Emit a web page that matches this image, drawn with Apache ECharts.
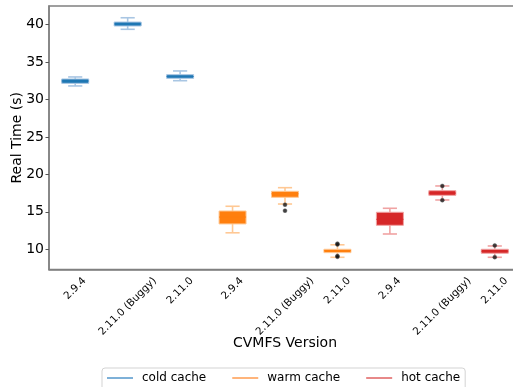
<!DOCTYPE html>
<html>
<head>
<meta charset="utf-8">
<script src="https://cdn.jsdelivr.net/npm/echarts@6/dist/echarts.min.js"></script>
<style>
html,body{margin:0;padding:0;background:#fff;}
#chart{width:513px;height:387px;}
</style>
</head>
<body>
<div id="chart"></div>
<script>
// ---- data ----
const categories = ['2.9.4', '2.11.0 (Buggy)', '2.11.0', '2.9.4', '2.11.0 (Buggy)', '2.11.0', '2.9.4', '2.11.0 (Buggy)', '2.11.0'];
const seriesNames = ['cold cache', 'warm cache', 'hot cache'];
// [min whisker, q1, median, q3, max whisker] per version (2.9.4, 2.11.0 (Buggy), 2.11.0)
const coldStats = [[31.8, 32.15, 32.46, 32.73, 33.0], [39.36, 39.8, 40.07, 40.33, 40.9], [32.5, 32.82, 33.06, 33.3, 33.8]];
const warmStats = [[12.2, 13.38, 14.3, 15.11, 15.74], [16.04, 16.94, 17.4, 17.74, 18.22], [8.93, 9.55, 9.8, 10.0, 10.6]];
const hotStats = [[12.04, 13.2, 14.0, 14.94, 15.47], [16.58, 17.2, 17.5, 17.82, 18.45], [8.93, 9.47, 9.75, 10.0, 10.44]];
// outliers: [category index, value]
const outliers = [[4, 15.95], [4, 15.15], [5, 10.75], [5, 10.65], [5, 9.1], [5, 9.0], [7, 18.45], [7, 16.55], [8, 10.5], [8, 8.95]];
const yTickValues = [10, 15, 20, 25, 30, 35, 40];
const yMin = 7.3, yMax = 42.47;

// ---- styles ----
const FONT = 'DejaVu Sans';
const colors = ['#1f77b4', '#ff7f0e', '#d62728'];
const lightColors = ['#a9c6e3', '#ffc894', '#f0a3a3'];
const legendColors = ['#5d9dcf', '#ffa25a', '#e26b6b'];
const spine = '#808080';

const chart = echarts.init(document.getElementById('chart'), null, {renderer: 'canvas'});

function buildData(stats, offset) {
  return stats.map((s, i) => [i + offset].concat(s));
}

function makeRender(ci) {
  return function (params, api) {
    const x = api.value(0);
    const lo = api.coord([x, api.value(1)]);
    const q1 = api.coord([x, api.value(2)]);
    const md = api.coord([x, api.value(3)]);
    const q3 = api.coord([x, api.value(4)]);
    const hi = api.coord([x, api.value(5)]);
    const band = api.size([1, 0])[0];
    const bw = band * 0.515, cw = band * 0.27;
    const cx = lo[0];
    const lineStyle = {stroke: lightColors[ci], lineWidth: 1.6};
    return {
      type: 'group',
      children: [
        {type: 'line', shape: {x1: cx, y1: q1[1], x2: cx, y2: lo[1]}, style: lineStyle},
        {type: 'line', shape: {x1: cx, y1: q3[1], x2: cx, y2: hi[1]}, style: lineStyle},
        {type: 'line', shape: {x1: cx - cw / 2, y1: lo[1], x2: cx + cw / 2, y2: lo[1]}, style: lineStyle},
        {type: 'line', shape: {x1: cx - cw / 2, y1: hi[1], x2: cx + cw / 2, y2: hi[1]}, style: lineStyle},
        {type: 'rect', shape: {x: cx - bw / 2, y: q3[1], width: bw, height: q1[1] - q3[1]},
          style: {fill: colors[ci], stroke: lightColors[ci], lineWidth: 1}},
        {type: 'line', shape: {x1: cx - bw / 2, y1: md[1], x2: cx + bw / 2, y2: md[1]},
          style: {stroke: colors[ci], lineWidth: 1}}
      ]
    };
  };
}

// per-label rich padding to mimic centred, 45°-rotated matplotlib tick labels
const xFont = 10.3;
const ctx = document.createElement('canvas').getContext('2d');
ctx.font = xFont + 'px "' + FONT + '"';
const rich = {};
categories.forEach((c, i) => {
  const L = ctx.measureText(c).width;
  const d = 5.5 + 0.354 * (L + xFont * 1.15);
  const b = d / 1.414;
  rich['l' + i] = {fontFamily: FONT, fontSize: xFont, color: '#000', padding: [2 * b, 2 * b, 0, 0]};
});

const allSeries = [
  {name: seriesNames[0], stats: coldStats, offset: 0},
  {name: seriesNames[1], stats: warmStats, offset: 3},
  {name: seriesNames[2], stats: hotStats, offset: 6}
].map((s, ci) => ({
  type: 'custom',
  name: s.name,
  renderItem: makeRender(ci),
  itemStyle: {color: colors[ci]},
  encode: {x: 0, y: [1, 2, 3, 4, 5]},
  data: buildData(s.stats, s.offset),
  z: 2
}));

allSeries.push({
  type: 'scatter',
  name: 'outliers',
  data: outliers,
  symbol: 'circle',
  symbolSize: 4,
  itemStyle: {color: '#111', borderColor: '#555', borderWidth: 0.5},
  z: 5
});

chart.setOption({
  animation: false,
  backgroundColor: '#fff',
  grid: {left: 49, right: -8, top: 6, bottom: 117.5, show: true, borderColor: spine, borderWidth: 1.5, outerBoundsMode: 'none', containLabel: false},
  xAxis: {
    type: 'category',
    data: categories,
    boundaryGap: true,
    name: 'CVMFS Version',
    nameLocation: 'middle',
    nameGap: 67,
    nameMoveOverlap: false,
    nameTextStyle: {fontFamily: FONT, fontSize: 14, color: '#000'},
    axisLine: {lineStyle: {color: spine, width: 1.5}},
    axisTick: {alignWithLabel: true, length: 3.5, lineStyle: {color: '#555'}},
    axisLabel: {
      interval: 0, rotate: 45, margin: 0, align: 'center', verticalAlign: 'middle',
      formatter: (v, i) => '{l' + i + '|' + v + '}',
      rich: rich
    },
    splitLine: {show: false}
  },
  yAxis: {
    type: 'value',
    min: yMin,
    max: yMax,
    name: 'Real Time (s)',
    nameLocation: 'middle',
    nameGap: 25,
    nameMoveOverlap: false,
    nameTextStyle: {fontFamily: FONT, fontSize: 14, color: '#000'},
    axisLine: {show: true, lineStyle: {color: spine, width: 1.5}},
    axisTick: {show: true, length: 3.5, customValues: yTickValues, lineStyle: {color: '#555'}},
    axisLabel: {customValues: yTickValues, fontFamily: FONT, fontSize: 14, color: '#000', margin: 5},
    splitLine: {show: false}
  },
  legend: {
    left: 102,
    top: 368,
    orient: 'horizontal',
    icon: 'rect',
    itemWidth: 26,
    itemHeight: 1.6,
    itemGap: 26,
    padding: [4, 5, 10, 5],
    borderColor: '#d3d3d3',
    borderWidth: 1,
    borderRadius: 3,
    textStyle: {fontFamily: FONT, fontSize: 12, color: '#000', padding: [0, 0, 0, 4]},
    data: seriesNames.map((n, i) => ({name: n, itemStyle: {color: legendColors[i]}}))
  },
  series: allSeries
});
</script>
</body>
</html>
